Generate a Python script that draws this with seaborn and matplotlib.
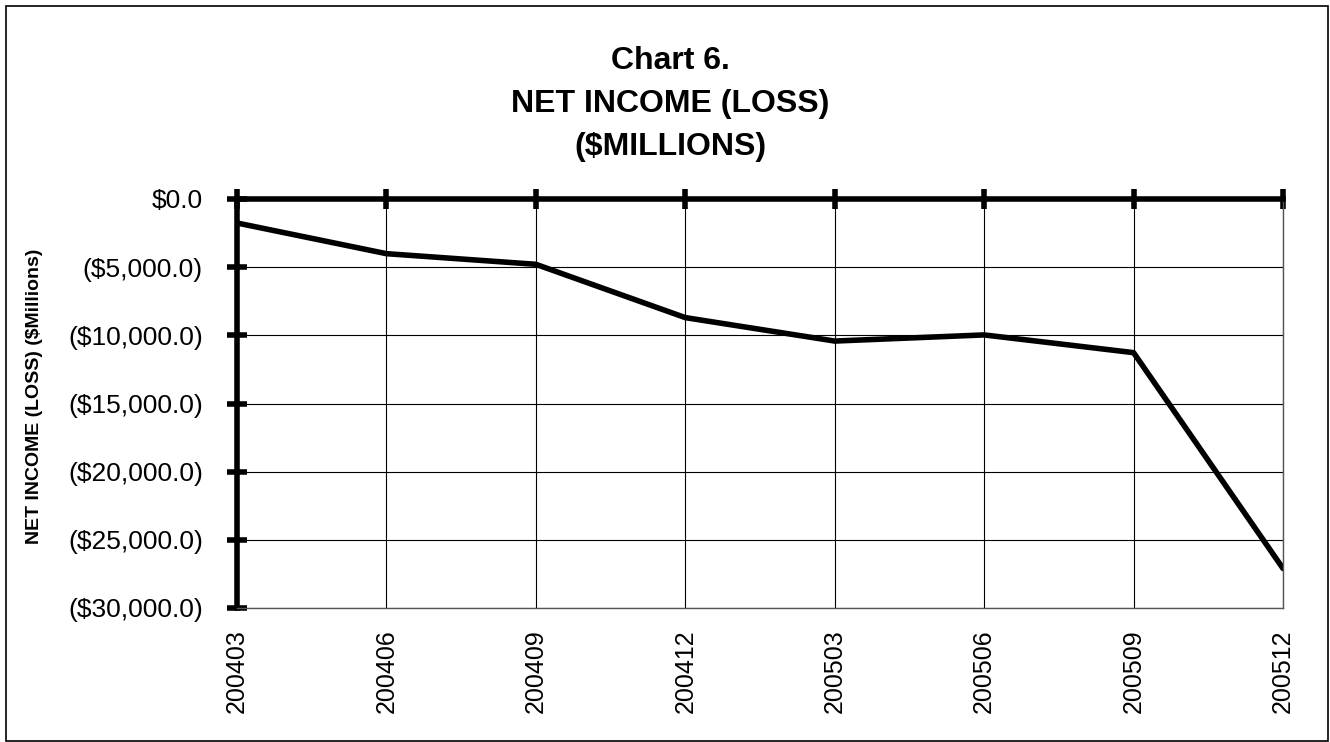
import matplotlib
matplotlib.use('Agg')
import pandas as pd
import seaborn as sns
import matplotlib.pyplot as plt
from matplotlib.ticker import FuncFormatter

# quarters and net income (loss) in $ millions
quarters = ['200403', '200406', '200409', '200412', '200503', '200506', '200509', '200512']
net_income = [-1760, -4010, -4790, -8700, -10420, -9970, -11270, -27100]
y_ticks = [0, -5000, -10000, -15000, -20000, -25000, -30000]

df = pd.DataFrame({'quarter': quarters, 'net_income': net_income})
df['pos'] = range(len(df))

sns.set_style('white')
plt.rcParams['font.family'] = ['Liberation Sans', 'DejaVu Sans']
plt.rcParams['text.color'] = 'black'
plt.rcParams['xtick.color'] = 'black'
plt.rcParams['ytick.color'] = 'black'
plt.rcParams['axes.labelcolor'] = 'black'

fig = plt.figure(figsize=(13.3, 7.42), dpi=100)
ax = fig.add_axes([237 / 1330, 1 - 608 / 742, (1283 - 237) / 1330, (608 - 199) / 742])

sns.lineplot(data=df, x='pos', y='net_income', color='black', linewidth=4, ax=ax)

ax.set_xlim(0, len(quarters) - 1)
ax.set_ylim(-30000, 0)
ax.set_xticks(df['pos'])
ax.set_xticklabels(quarters, rotation=90, fontsize=18)
ax.set_yticks(y_ticks)


def money(v, _):
    if v < 0:
        return '(${:,.1f})'.format(-v)
    return '${:,.1f}'.format(v)


ax.yaxis.set_major_formatter(FuncFormatter(money))
ax.tick_params(axis='y', labelsize=19, direction='inout', length=15, width=4, left=True, pad=17)
ax.tick_params(axis='x', top=True, bottom=False, labeltop=False, labelbottom=True,
               direction='inout', length=15, width=4, pad=8)

ax.grid(True, color='black', linewidth=0.8)
ax.set_axisbelow(True)

for s in ax.spines.values():
    s.set_visible(True)
    s.set_color('black')
ax.spines['top'].set_linewidth(4)
ax.spines['left'].set_linewidth(4)
for s in ['bottom', 'right']:
    ax.spines[s].set_linewidth(1)
    ax.spines[s].set_color('#555555')

ax.set_xlabel('')
ax.set_ylabel('')
fig.text(35 / 1330, 1 - 396 / 742, 'NET INCOME (LOSS) ($Millions)', rotation=90,
         ha='center', va='center', fontsize=14, fontweight='bold')

fig.text(670 / 1330, 1 - 104 / 742, 'Chart 6.\nNET INCOME (LOSS)\n($MILLIONS)',
         ha='center', va='center', fontsize=23, fontweight='bold', linespacing=1.55)

# outer frame of the chart
fig.add_artist(plt.Rectangle((6 / 1330, 1 / 742), 1322 / 1330, 735 / 742, transform=fig.transFigure,
                             fill=False, edgecolor='black', linewidth=1.2))

fig.savefig('out.png', dpi=100)
